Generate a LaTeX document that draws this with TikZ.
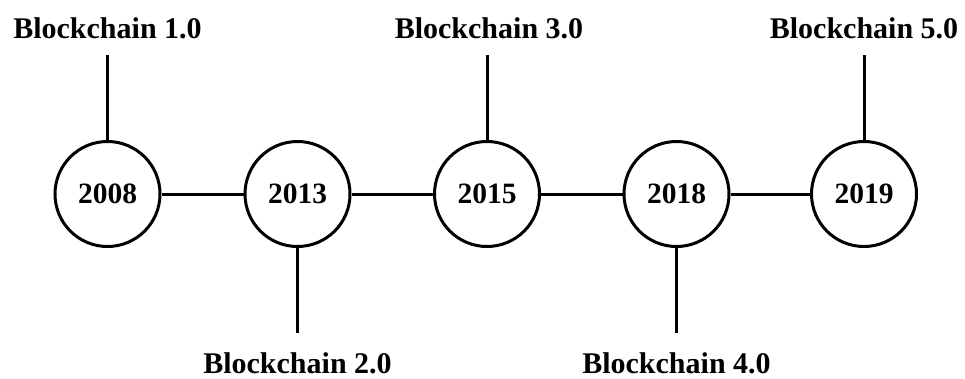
\documentclass[tikz,border=0pt]{standalone}
\usepackage{fontspec}
\setmainfont{Liberation Serif}
\begin{document}
\begin{tikzpicture}[x=1pt,y=1pt,
  year/.style={circle,draw,line width=3pt,minimum size=105pt,inner sep=0pt,
    font=\fontsize{29.5}{32}\selectfont\bfseries},
  era/.style={anchor=base,inner sep=0pt,font=\fontsize{30}{32}\selectfont\bfseries},
  link/.style={line width=3pt}]
\useasboundingbox (0,0) rectangle (965,378);
% timeline of years
\node[year] (y1) at (107.5,184) {2008};
\node[year] (y2) at (297.5,184) {2013};
\node[year] (y3) at (487,184) {2015};
\node[year] (y4) at (676.5,184) {2018};
\node[year] (y5) at (864,184) {2019};
\draw[link] (y1) -- (y2);
\draw[link] (y2) -- (y3);
\draw[link] (y3) -- (y4);
\draw[link] (y4) -- (y5);
% generation labels above and below
\node[era] (b1) at (107.5,339.5) {Blockchain 1.0};
\node[era] (b2) at (297.5,5) {Blockchain 2.0};
\node[era] (b3) at (489,339.5) {Blockchain 3.0};
\node[era] (b4) at (676.5,5) {Blockchain 4.0};
\node[era] (b5) at (864,339.5) {Blockchain 5.0};
\coordinate (t1) at (107.5,323);
\coordinate (t2) at (297.5,45);
\coordinate (t3) at (487,323);
\coordinate (t4) at (676.5,45);
\coordinate (t5) at (864,323);
\draw[link] (y1.north) -- (t1);
\draw[link] (y2.south) -- (t2);
\draw[link] (y3.north) -- (t3);
\draw[link] (y4.south) -- (t4);
\draw[link] (y5.north) -- (t5);
\end{tikzpicture}
\end{document}
